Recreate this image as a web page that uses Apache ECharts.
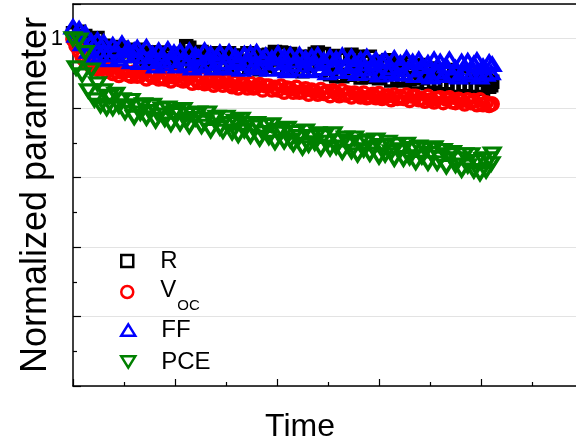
<!DOCTYPE html>
<html><head><meta charset="utf-8">
<script src="https://cdn.jsdelivr.net/npm/echarts@6/dist/echarts.min.js"></script>
<style>html,body{margin:0;padding:0;background:#fff}#c{width:576px;height:444px}</style>
</head><body><div id="c"></div>
<script>
const FONT = "'Liberation Sans', Arial, sans-serif";

// sampling times (arbitrary time units)
const time = [0,3,6,9,12,15,18,21,24,27,30,33,36,39,42,45,48,51,54,57,60,63,66,69,72,75,78,81,84,87,90,93,96,99,102,105,108,111,114,117,120,123,126,129,132,135,138,141,144,147,150,153,156,159,162,165,168,171,174,177,180,183,186,189,192,195,198,201,204,207,210,213,216,219,222,225,228,231,234,237,240,243,246,249,252,255,258,261,264,267,270,273,276,279,282,285,288,291,294,297,300,303,306,309,312,315,318,321,324,327,330,333,336,339,342,345,348,351,354,357,360,363,366,369,372,375,378,381,384,387,390,393,396,399,402,405,408,410,411];

const R = [1.008,0.997,1.010,0.995,1.004,0.985,0.999,0.984,1.001,0.987,
0.990,0.980,0.985,0.988,0.978,0.982,0.987,0.975,0.982,0.983,
0.975,0.984,0.974,0.978,0.970,0.980,0.977,0.968,0.980,0.971,
0.977,0.966,0.978,0.970,0.967,0.978,0.974,0.989,0.987,0.963,
0.977,0.964,0.981,0.961,0.973,0.978,0.964,0.979,0.959,0.973,
0.960,0.979,0.965,0.975,0.956,0.976,0.967,0.979,0.960,0.969,
0.976,0.956,0.972,0.961,0.977,0.970,0.981,0.957,0.980,0.979,
0.956,0.978,0.959,0.969,0.974,0.953,0.971,0.961,0.974,0.978,
0.980,0.955,0.978,0.967,0.949,0.975,0.946,0.971,0.946,0.973,
0.948,0.977,0.950,0.974,0.944,0.967,0.945,0.974,0.946,0.964,
0.943,0.967,0.949,0.969,0.940,0.961,0.943,0.964,0.940,0.965,
0.942,0.959,0.937,0.962,0.943,0.955,0.936,0.957,0.938,0.955,
0.934,0.951,0.936,0.955,0.930,0.946,0.932,0.948,0.933,0.945,
0.931,0.945,0.932,0.947,0.928,0.941,0.931,0.933,0.938];

const Voc = [0.999,0.990,0.982,0.973,0.968,0.965,0.960,0.961,0.956,0.958,
0.958,0.953,0.958,0.950,0.953,0.947,0.952,0.953,0.948,0.946,
0.952,0.946,0.947,0.950,0.942,0.948,0.945,0.949,0.942,0.945,
0.942,0.947,0.939,0.945,0.946,0.941,0.939,0.942,0.944,0.936,
0.942,0.937,0.943,0.935,0.938,0.940,0.933,0.937,0.938,0.933,
0.939,0.934,0.931,0.937,0.929,0.935,0.934,0.929,0.936,0.929,
0.931,0.934,0.926,0.932,0.932,0.926,0.930,0.926,0.932,0.923,
0.929,0.928,0.923,0.930,0.923,0.924,0.928,0.920,0.926,0.924,
0.920,0.927,0.921,0.924,0.918,0.925,0.922,0.918,0.925,0.919,
0.922,0.916,0.922,0.920,0.916,0.922,0.915,0.916,0.920,0.915,
0.921,0.914,0.917,0.918,0.912,0.919,0.914,0.917,0.914,0.919,
0.911,0.917,0.917,0.912,0.914,0.910,0.917,0.912,0.909,0.914,
0.915,0.908,0.913,0.915,0.909,0.908,0.913,0.911,0.906,0.912,
0.908,0.911,0.905,0.912,0.905,0.908,0.904,0.906,0.906];

const FF = [1.017,1.005,1.014,0.993,1.008,0.982,0.996,0.974,0.998,0.977,
0.995,0.977,0.970,0.991,0.984,0.971,0.993,0.976,0.986,0.967,
0.983,0.987,0.966,0.974,0.988,0.967,0.978,0.961,0.983,0.974,
0.964,0.985,0.968,0.980,0.961,0.982,0.971,0.964,0.983,0.958,
0.977,0.973,0.961,0.983,0.964,0.978,0.958,0.974,0.980,0.961,
0.966,0.981,0.958,0.975,0.970,0.956,0.978,0.964,0.979,0.961,
0.981,0.958,0.971,0.976,0.956,0.972,0.965,0.979,0.958,0.974,
0.954,0.977,0.963,0.968,0.977,0.956,0.972,0.954,0.974,0.964,
0.977,0.957,0.969,0.951,0.974,0.959,0.971,0.953,0.976,0.960,
0.954,0.974,0.964,0.950,0.970,0.956,0.974,0.951,0.964,0.970,
0.948,0.967,0.970,0.953,0.958,0.972,0.949,0.965,0.950,0.972,
0.955,0.967,0.947,0.970,0.960,0.948,0.965,0.945,0.970,0.952,
0.967,0.947,0.961,0.970,0.949,0.958,0.945,0.967,0.952,0.968,
0.948,0.964,0.969,0.945,0.960,0.949,0.966,0.951,0.963];

const PCE = [1.000,0.958,0.998,0.948,0.980,0.925,0.955,0.912,0.935,0.904,
0.925,0.900,0.917,0.900,0.920,0.903,0.912,0.894,0.903,0.911,
0.887,0.903,0.893,0.905,0.886,0.895,0.904,0.882,0.890,0.899,
0.884,0.900,0.877,0.891,0.895,0.878,0.898,0.882,0.874,0.891,
0.885,0.893,0.874,0.880,0.893,0.868,0.884,0.887,0.872,0.867,
0.887,0.878,0.865,0.881,0.861,0.884,0.868,0.878,0.860,0.873,
0.878,0.856,0.865,0.875,0.858,0.876,0.851,0.864,0.868,0.852,
0.871,0.854,0.848,0.865,0.859,0.843,0.867,0.847,0.859,0.850,
0.863,0.842,0.859,0.851,0.842,0.863,0.844,0.853,0.837,0.857,
0.849,0.838,0.857,0.833,0.851,0.840,0.853,0.834,0.843,0.854,
0.830,0.846,0.833,0.851,0.837,0.827,0.847,0.840,0.827,0.848,
0.829,0.842,0.822,0.844,0.830,0.841,0.821,0.835,0.843,0.821,
0.828,0.839,0.816,0.833,0.836,0.818,0.827,0.811,0.833,0.817,
0.833,0.810,0.823,0.806,0.826,0.810,0.827,0.820,0.834];

const yLabelValues = [1];          // only labelled y tick
const seriesNames = ['R', 'Voc', 'FF', 'PCE'];
const seriesColors = ['#000000', '#ff0000', '#0000ff', '#008000'];

function pts(vals) { return time.map((t, i) => [t, vals[i]]); }

const square = 'path://M0,0L10,0L10,10L0,10Z';
const triUp = 'path://M0,13L8,0L16,13Z';
const triDown = 'path://M0,0L16,0L8,13Z';
const symbols = [square, 'circle', triUp, triDown];
const sizes = [11, 12, [15, 12], [15, 12]];
const values = [R, Voc, FF, PCE];

const chart = echarts.init(document.getElementById('c'), null, { renderer: 'canvas' });

const series = seriesNames.map((n, k) => ({
  type: 'scatter', name: n, data: pts(values[k]),
  symbol: symbols[k], symbolSize: sizes[k], symbolKeepAspect: false,
  itemStyle: { color: 'none', borderColor: seriesColors[k], borderWidth: 3.5, opacity: 1 },
  silent: true, emphasis: { disabled: true }
}));

const legTop = [249, 278, 318, 350];
const legend = seriesNames.map((n, k) => {
  const l = {
    data: [n], left: 120, top: legTop[k], orient: 'vertical', padding: 0,
    itemWidth: 14, itemHeight: 12, selectedMode: false,
    itemStyle: { color: '#ffffff', borderWidth: 2.5 },
    textStyle: { fontFamily: FONT, fontSize: 24, color: '#000', padding: [0, 0, 0, 21] }
  };
  if (n === 'Voc') {
    l.formatter = '{v|V}{s|OC}';
    l.textStyle.rich = {
      v: { fontFamily: FONT, fontSize: 24, lineHeight: 28, verticalAlign: 'top', color: '#000' },
      s: { fontFamily: FONT, fontSize: 15, lineHeight: 15, padding: [20, 0, 0, 1], verticalAlign: 'top', color: '#000' }
    };
  }
  return l;
});

chart.setOption({
  animation: false,
  backgroundColor: '#ffffff',
  grid: { left: 73, top: 4, width: 510, height: 382, containLabel: false, outerBoundsMode: 'none' },
  legend: legend,
  xAxis: [{
    type: 'value', min: 0, max: 500, interval: 100, position: 'bottom',
    name: 'Time', nameLocation: 'middle', nameGap: 25, nameMoveOverlap: false,
    nameTextStyle: { fontFamily: FONT, fontSize: 32, color: '#000', verticalAlign: 'top', padding: [0, 56, 0, 0] },
    axisLine: { onZero: false, lineStyle: { color: '#000', width: 1.5 } },
    axisTick: { inside: true, length: 7, lineStyle: { color: '#000', width: 1.2 } },
    minorTick: { show: true, splitNumber: 2, length: 4, lineStyle: { color: '#000', width: 1.2 } },
    axisLabel: { show: false }, splitLine: { show: false }
  }, {
    type: 'value', min: 0, max: 500, position: 'top',
    axisLine: { onZero: false, lineStyle: { color: '#000', width: 1.5 } },
    axisTick: { show: false }, axisLabel: { show: false }, splitLine: { show: false }
  }],
  yAxis: {
    type: 'value', min: 0.5, max: 1.05, interval: 0.1,
    name: 'Normalized parameter', nameLocation: 'middle', nameGap: 19, nameMoveOverlap: false,
    nameTextStyle: { fontFamily: FONT, fontSize: 36, color: '#000' },
    axisLine: { onZero: false, lineStyle: { color: '#000', width: 1.5 } },
    axisTick: { inside: true, length: 8, lineStyle: { color: '#000', width: 1.2 } },
    minorTick: { show: true, splitNumber: 2, length: 4, lineStyle: { color: '#000', width: 1.2 } },
    axisLabel: {
      margin: 10, fontFamily: FONT, fontSize: 22, color: '#000',
      formatter: v => yLabelValues.some(y => Math.abs(y - v) < 1e-6) ? String(v) : ''
    },
    splitLine: { show: true, lineStyle: { color: '#e3e3e3', width: 1 } }
  },
  series: series
});
</script></body></html>
